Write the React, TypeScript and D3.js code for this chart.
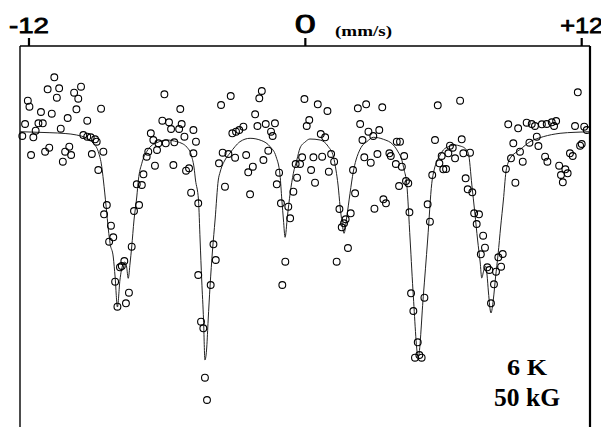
import React from "react";
import * as d3 from "d3";

// Mössbauer spectrum, 6 K, 50 kG applied field.
// Observed points: [velocity (mm/s), relative transmission (%)]
const observed: [number, number][] = [
  [-12.29, 99.5], [-12.17, 100.7], [-12.05, 103.03], [-11.98, 102.43], [-11.91, 97.6],
  [-11.81, 99.37], [-11.71, 100.03], [-11.59, 100.77], [-11.48, 101.9], [-11.4, 100.77],
  [-11.3, 97.93], [-11.19, 104.17], [-11.12, 98.33], [-11.01, 101.73], [-10.9, 105.37],
  [-10.79, 103.33], [-10.69, 104.27], [-10.62, 100.23], [-10.53, 96.93], [-10.43, 97.93],
  [-10.32, 101.3], [-10.25, 98.43], [-10.17, 97.6], [-10.04, 103.83], [-9.94, 102.17],
  [-9.86, 103.23], [-9.74, 104.43], [-9.64, 99.6], [-9.47, 101.03], [-9.47, 99.43],
  [-9.32, 99.37], [-9.27, 97.7], [-9.13, 99.17], [-9.06, 98.93], [-8.87, 102.23],
  [-8.77, 97.93], [-8.99, 96.1], [-8.74, 91.67], [-8.62, 92.6], [-8.52, 88.93],
  [-8.44, 90.53], [-8.34, 89.37], [-8.26, 84.93], [-8.16, 82.43], [-8.05, 86.37],
  [-7.97, 86.5], [-7.86, 87.0], [-7.79, 82.77], [-7.66, 83.83], [-7.54, 88.43],
  [-7.44, 92.0], [-7.32, 94.67], [-7.1, 94.6], [-7.22, 92.6], [-7.03, 95.67],
  [-6.89, 97.43], [-6.82, 97.93], [-6.71, 99.77], [-6.6, 99.1], [-6.53, 96.53],
  [-6.44, 98.1], [-6.38, 98.77], [-6.21, 101.03], [-6.12, 103.67], [-6.06, 98.77],
  [-5.92, 100.87], [-5.83, 100.2], [-5.73, 96.6], [-5.69, 98.87], [-5.48, 100.2],
  [-5.43, 102.2], [-5.37, 100.7], [-5.25, 99.43], [-5.18, 96.03], [-5.05, 96.27],
  [-4.96, 93.83], [-4.86, 97.77], [-4.75, 98.93], [-4.65, 92.77], [-4.86, 100.1],
  [-4.65, 85.6], [-4.53, 80.93], [-4.43, 80.27], [-4.36, 75.33], [-4.27, 73.1],
  [-4.11, 84.6], [-3.99, 88.67], [-3.89, 87.1], [-3.75, 96.77], [-3.66, 102.6],
  [-3.59, 97.83], [-3.49, 94.43], [-3.34, 97.7], [-3.24, 103.5], [-3.17, 99.77],
  [-3.01, 99.93], [-2.87, 100.1], [-2.69, 100.43], [-3.05, 97.33], [-2.57, 97.6],
  [-2.48, 95.87], [-2.4, 93.67], [-2.28, 96.43], [-2.18, 101.67], [-2.08, 100.5],
  [-2.0, 103.27], [-1.89, 104.0], [-1.82, 97.1], [-1.72, 100.7], [-1.61, 98.03],
  [-1.49, 99.93], [-1.42, 99.5], [-1.32, 100.77], [-1.24, 94.67], [-1.14, 95.83],
  [-1.06, 92.77], [-1.0, 84.6], [-0.87, 86.93], [-0.74, 92.43], [-0.66, 91.27],
  [-0.52, 93.93], [-0.42, 96.7], [-0.36, 95.33], [-0.23, 96.7], [-0.14, 97.37],
  [-0.04, 103.2], [0.06, 100.5], [0.17, 101.1], [0.25, 96.1], [0.35, 97.37],
  [0.42, 94.83], [0.54, 102.67], [0.67, 99.7], [0.73, 97.43], [0.86, 99.37],
  [0.96, 102.0], [1.02, 95.93], [1.12, 97.7], [1.25, 96.93], [1.36, 86.93],
  [1.48, 92.2], [1.58, 90.37], [1.68, 90.77], [1.75, 91.17], [1.85, 88.3],
  [1.97, 91.77], [2.07, 96.1], [2.16, 93.77], [2.28, 102.27], [2.38, 100.7],
  [2.48, 99.1], [2.56, 97.37], [2.64, 102.67], [2.74, 99.93], [2.84, 96.83],
  [2.95, 99.5], [3.0, 92.23], [3.13, 97.7], [3.21, 100.1], [3.34, 102.37],
  [3.39, 93.17], [3.5, 92.77], [3.65, 97.77], [3.71, 97.5], [3.93, 96.7],
  [3.97, 98.93], [4.07, 94.5], [4.11, 98.93], [4.19, 96.43], [4.29, 97.5],
  [4.37, 95.0], [4.47, 94.77], [4.52, 91.87], [4.59, 83.77], [4.69, 82.0],
  [4.76, 77.33], [4.88, 78.87], [4.95, 77.6], [5.05, 77.33], [5.17, 83.33],
  [5.31, 92.67], [5.41, 90.93], [5.51, 95.6], [5.63, 99.1], [5.75, 102.57],
  [5.82, 96.77], [5.92, 97.5], [5.99, 96.17], [6.11, 96.2], [6.21, 97.77],
  [6.28, 98.53], [6.4, 98.33], [6.5, 97.27], [6.72, 103.03], [6.79, 99.17],
  [6.86, 97.77], [6.96, 95.27], [7.05, 94.17], [7.15, 97.83], [7.25, 93.87],
  [7.33, 91.77], [7.44, 90.7], [7.54, 91.67], [7.62, 87.67], [7.72, 89.53],
  [7.8, 88.33], [7.9, 86.37], [7.99, 86.1], [8.06, 82.77], [8.19, 84.67],
  [8.28, 85.93], [8.38, 87.37], [8.5, 86.43], [8.57, 87.7], [8.71, 96.2],
  [8.81, 100.67], [8.93, 97.27], [9.03, 98.77], [9.12, 94.83], [9.24, 100.27],
  [9.32, 97.93], [9.44, 96.93], [9.61, 100.83], [9.73, 98.83], [9.83, 100.7],
  [9.97, 100.5], [10.05, 99.43], [10.12, 98.5], [10.27, 100.67], [10.41, 97.43],
  [10.48, 100.7], [10.51, 96.93], [10.7, 100.87], [10.8, 100.5], [10.89, 101.0],
  [11.02, 96.53], [11.1, 95.6], [11.18, 94.87], [11.29, 96.17], [11.39, 95.77],
  [11.49, 97.77], [11.61, 97.5], [11.71, 100.5], [11.83, 103.87], [11.93, 98.53],
  [12.0, 98.7], [12.11, 100.43], [12.22, 100.1],
];

// Least-squares fit curve: [velocity (mm/s), relative transmission (%)]
const fitCurve: [number, number][] = [
  [-12.39, 99.93], [-11.74, 99.88], [-11.09, 99.83], [-10.43, 99.75], [-9.93, 99.6],
  [-9.49, 99.27], [-9.21, 98.77], [-8.99, 97.93], [-8.84, 96.43], [-8.77, 95.1],
  [-8.65, 92.43], [-8.55, 90.1], [-8.48, 88.77], [-8.34, 87.4], [-8.26, 85.4],
  [-8.16, 82.4], [-8.05, 85.1], [-7.93, 86.6], [-7.83, 86.9], [-7.76, 86.4],
  [-7.69, 85.27], [-7.61, 86.8], [-7.54, 88.4], [-7.44, 91.1], [-7.32, 93.4],
  [-7.25, 95.1], [-7.1, 96.77], [-6.89, 97.93], [-6.7, 98.5], [-6.45, 98.83],
  [-6.02, 99.1], [-5.58, 98.93], [-5.35, 98.75], [-5.15, 98.4], [-4.94, 97.5],
  [-4.83, 96.3], [-4.77, 95.1], [-4.64, 93.1], [-4.57, 89.1], [-4.5, 85.1],
  [-4.42, 81.1], [-4.36, 77.1], [-4.28, 78.4], [-4.22, 81.1], [-4.14, 84.4],
  [-4.03, 88.1], [-3.92, 91.1], [-3.78, 95.1], [-3.7, 95.9], [-3.49, 97.1],
  [-3.27, 97.8], [-3.05, 98.45], [-2.84, 98.93], [-2.4, 99.27], [-1.89, 99.03],
  [-1.53, 98.43], [-1.27, 97.43], [-1.1, 95.6], [-1.02, 93.1], [-0.95, 91.1],
  [-0.88, 89.37], [-0.78, 91.43], [-0.66, 93.77], [-0.52, 95.77], [-0.37, 97.1],
  [-0.23, 98.3], [-0.01, 98.9], [0.2, 99.2], [0.64, 99.1], [1.0, 98.43],
  [1.22, 97.43], [1.33, 96.1], [1.42, 94.6], [1.51, 92.43], [1.59, 90.9],
  [1.68, 89.77], [1.8, 91.43], [1.94, 93.77], [2.08, 95.9], [2.2, 97.1],
  [2.3, 97.77], [2.46, 98.5], [2.67, 98.93], [2.95, 99.37], [3.39, 99.17],
  [3.82, 98.6], [4.03, 97.9], [4.19, 97.1], [4.29, 96.1], [4.4, 94.77],
  [4.55, 89.1], [4.69, 83.43], [4.9, 77.4], [5.12, 83.43], [5.31, 89.1],
  [5.49, 94.77], [5.59, 96.1], [5.72, 97.0], [5.85, 97.6], [5.99, 98.1],
  [6.24, 98.45], [6.5, 98.6], [6.72, 98.5], [6.93, 98.27], [7.08, 97.75],
  [7.23, 94.6], [7.36, 91.8], [7.48, 89.1], [7.59, 86.9], [7.66, 85.3],
  [7.74, 86.0], [7.82, 86.5], [7.89, 85.6], [7.95, 83.9], [8.06, 81.8],
  [8.16, 83.1], [8.26, 85.4], [8.37, 87.7], [8.48, 90.4], [8.6, 93.1],
  [8.71, 95.9], [8.8, 96.8], [8.93, 97.4], [9.11, 97.8], [9.32, 98.15],
  [9.76, 98.93], [10.33, 99.43], [11.06, 99.77], [11.71, 99.87], [12.36, 99.93],
];

const tickValues = [-12, 0, 12];
const tickLabels = ["-12", "0", "+12"];
const tickLabelWidths = [40, 21, 43];
const tickLabelSizes = [22, 25, 22];
const unitLabel = "(mm/s)";
const conditionLabels = ["6 K", "50 kG"];

const W = 601;
const H = 427;
const plotLeft = 20;
const plotRight = 590;
const plotTop = 46;

export default function App() {
  const x = d3.scaleLinear().domain([-12.39, 12.36]).range([plotLeft, plotRight]);
  const y = d3.scaleLinear().domain([108.5, 70.4]).range([plotTop, H]);

  const line = d3
    .line<[number, number]>()
    .x((d) => x(d[0]))
    .y((d) => y(d[1]))
    .curve(d3.curveMonotoneX);

  return (
    <svg
      width={W}
      height={H}
      style={{ position: "absolute", left: 0, top: 0, background: "#fff" }}
    >
      {/* frame: top, left and right edges */}
      <line x1={plotLeft} x2={plotRight} y1={plotTop} y2={plotTop} stroke="#000" strokeWidth={1.6} />
      <line x1={plotLeft} x2={plotLeft} y1={plotTop} y2={H} stroke="#000" strokeWidth={1.4} />
      <line x1={plotRight} x2={plotRight} y1={plotTop} y2={H} stroke="#000" strokeWidth={2.2} />

      {/* velocity ticks on the top edge */}
      {tickValues.map((v, i) => (
        <g key={v}>
          <line x1={x(v)} x2={x(v)} y1={plotTop} y2={plotTop - 8} stroke="#000" strokeWidth={2.2} />
          <text
            x={x(v)}
            y={33}
            textAnchor="middle"
            fontFamily="Liberation Sans, Arial, sans-serif"
            fontSize={tickLabelSizes[i]}
            textLength={tickLabelWidths[i]}
            lengthAdjust="spacingAndGlyphs"
            fill="#000"
            stroke="#000"
            strokeWidth={0.8}
          >
            {tickLabels[i]}
          </text>
        </g>
      ))}
      <text
        x={335}
        y={36}
        fontFamily="Liberation Serif, Times New Roman, serif"
        fontWeight="bold"
        fontSize={14}
        textLength={57}
        lengthAdjust="spacingAndGlyphs"
        fill="#000"
      >
        {unitLabel}
      </text>

      {/* fitted curve */}
      <path d={line(fitCurve) ?? ""} fill="none" stroke="#222" strokeWidth={1} />

      {/* measured points */}
      {observed.map((d, i) => (
        <circle key={i} cx={x(d[0])} cy={y(d[1])} r={3.4} fill="none" stroke="#000" strokeWidth={1.1} />
      ))}

      {/* measurement conditions */}
      <text
        x={527}
        y={375}
        textAnchor="middle"
        fontFamily="Liberation Serif, Times New Roman, serif"
        fontWeight="bold"
        fontSize={23}
        textLength={40}
        lengthAdjust="spacingAndGlyphs"
        fill="#000"
      >
        {conditionLabels[0]}
      </text>
      <text
        x={527}
        y={406}
        textAnchor="middle"
        fontFamily="Liberation Serif, Times New Roman, serif"
        fontWeight="bold"
        fontSize={25}
        textLength={66}
        lengthAdjust="spacingAndGlyphs"
        fill="#000"
      >
        {conditionLabels[1]}
      </text>
    </svg>
  );
}
